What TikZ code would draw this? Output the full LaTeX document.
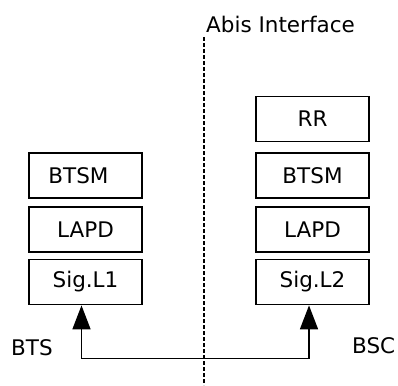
\documentclass[tikz,border=0pt]{standalone}
\usepackage{fontspec}
\setmainfont{DejaVu Sans}
\usetikzlibrary{arrows.meta}
\begin{document}
\begin{tikzpicture}[x=1pt,y=-1pt,
  lbl/.style={font=\fontsize{21.5}{25}\selectfont, inner sep=0pt},
  layer/.style={draw, line width=1.8pt, minimum width=113pt, minimum height=45pt, inner sep=0pt, font=\fontsize{21.5}{25}\selectfont},
  conn/.style={line width=1.7pt, {Triangle[length=24pt,width=18pt]}-{Triangle[length=24pt,width=18pt]}}]
\useasboundingbox (0,0) rectangle (398,385);
% interface
\coordinate (dtop) at (204,37);
\coordinate (dbot) at (204,385);
\draw[line width=1.5pt, dash pattern=on 4pt off 2pt] (dtop) -- (dbot);
\node[lbl, anchor=base west] (abis) at (206,33) {Abis Interface};
% BTS stack
\node[layer] (lbtsm) at (85.5,175.5) {};
\node[lbl] (lbtsmt) at ([xshift=-7pt]lbtsm.center) {BTSM};
\node[layer] (llapd) at (85.5,229.5) {LAPD};
\node[layer] (lsig) at (85.5,282) {Sig.L1};
% BSC stack
\node[layer] (rrr) at (312.5,119) {RR};
\node[layer] (rbtsm) at (312.5,175.5) {BTSM};
\node[layer] (rlapd) at (312.5,229.5) {LAPD};
\node[layer] (rsig) at (312.5,282) {Sig.L2};
% labels
\node[lbl, anchor=base west] (bts) at (11,355) {BTS};
\node[lbl, anchor=base west] (bsc) at (352,353) {BSC};
% connector
\draw[conn] ([xshift=-4pt]lsig.south) -- ++(0,53) -| ([xshift=-3.5pt]rsig.south);
\end{tikzpicture}
\end{document}
